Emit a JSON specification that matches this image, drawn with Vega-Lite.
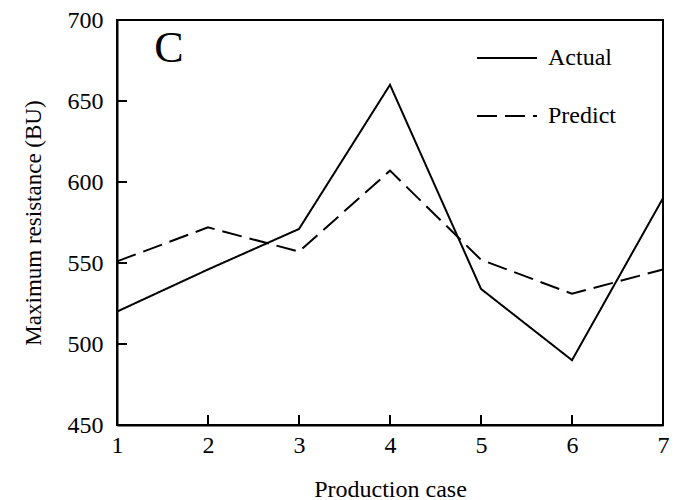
{
  "$schema": "https://vega.github.io/schema/vega-lite/v6.json",
  "autosize": "none",
  "width": 546,
  "height": 405,
  "padding": {"left": 117, "top": 20, "right": 16, "bottom": 75},
  "background": "white",
  "config": {
    "font": "Liberation Serif",
    "view": {"stroke": "black", "strokeWidth": 2},
    "axis": {
      "domain": true, "domainColor": "black", "domainWidth": 2,
      "grid": false, "ticks": false,
      "labelFont": "Liberation Serif", "labelColor": "black",
      "titleFont": "Liberation Serif", "titleFontWeight": "normal", "titleColor": "black"
    },
    "legend": {"padding": 0}
  },
  "datasets": {
    "main": [
      {"case": 1, "value": 520, "series": "Actual"},
      {"case": 2, "value": 546, "series": "Actual"},
      {"case": 3, "value": 571, "series": "Actual"},
      {"case": 4, "value": 660, "series": "Actual"},
      {"case": 5, "value": 534, "series": "Actual"},
      {"case": 6, "value": 490, "series": "Actual"},
      {"case": 7, "value": 590, "series": "Actual"},
      {"case": 1, "value": 551, "series": "Predict"},
      {"case": 2, "value": 572, "series": "Predict"},
      {"case": 3, "value": 557, "series": "Predict"},
      {"case": 4, "value": 607, "series": "Predict"},
      {"case": 5, "value": 552, "series": "Predict"},
      {"case": 6, "value": 531, "series": "Predict"},
      {"case": 7, "value": 546, "series": "Predict"}
    ],
    "xticks": [{"t": 2}, {"t": 3}, {"t": 4}, {"t": 5}, {"t": 6}],
    "yticks": [{"t": 500}, {"t": 550}, {"t": 600}, {"t": 650}],
    "label": [{"panel": "C"}]
  },
  "layer": [
    {
      "data": {"name": "main"},
      "mark": {"type": "line", "color": "black", "strokeWidth": 2},
      "encoding": {
        "x": {"field": "case", "type": "quantitative", "scale": {"domain": [1, 7], "nice": false},
              "axis": {"values": [1, 2, 3, 4, 5, 6, 7], "format": "d", "title": "Production case",
                       "labelFontSize": 24, "titleFontSize": 24,
                       "labelPadding": 8, "titlePadding": 20, "labelFlush": false}},
        "y": {"field": "value", "type": "quantitative", "scale": {"domain": [450, 700], "nice": false, "zero": false},
              "axis": {"values": [450, 500, 550, 600, 650, 700], "format": "d", "title": "Maximum resistance (BU)",
                       "labelFontSize": 24, "titleFontSize": 23,
                       "labelPadding": 14, "titlePadding": 22, "labelFlush": false}},
        "strokeDash": {"field": "series", "type": "nominal",
          "scale": {"domain": ["Actual", "Predict"], "range": [[1, 0], [20, 8]]},
          "legend": {"title": null, "orient": "none", "legendX": 359, "legendY": 7,
                     "symbolType": "stroke", "symbolSize": 3600, "symbolStrokeWidth": 2, "symbolStrokeColor": "black",
                     "labelFontSize": 24, "labelFont": "Liberation Serif", "labelColor": "black",
                     "rowPadding": 15, "labelOffset": 10}}
      }
    },
    {
      "data": {"name": "xticks"},
      "mark": {"type": "rule", "color": "black", "strokeWidth": 2, "y2Offset": -10},
      "encoding": {
        "x": {"field": "t", "type": "quantitative"},
        "y": {"datum": 450},
        "y2": {"datum": 450}
      }
    },
    {
      "data": {"name": "yticks"},
      "mark": {"type": "rule", "color": "black", "strokeWidth": 2, "x2Offset": 10},
      "encoding": {
        "y": {"field": "t", "type": "quantitative"},
        "x": {"datum": 1},
        "x2": {"datum": 1}
      }
    },
    {
      "data": {"name": "label"},
      "mark": {"type": "text", "fontSize": 44, "font": "Liberation Serif", "color": "black", "align": "center", "baseline": "middle"},
      "encoding": {"text": {"field": "panel"}, "x": {"datum": 1.57}, "y": {"datum": 682}}
    }
  ]
}
